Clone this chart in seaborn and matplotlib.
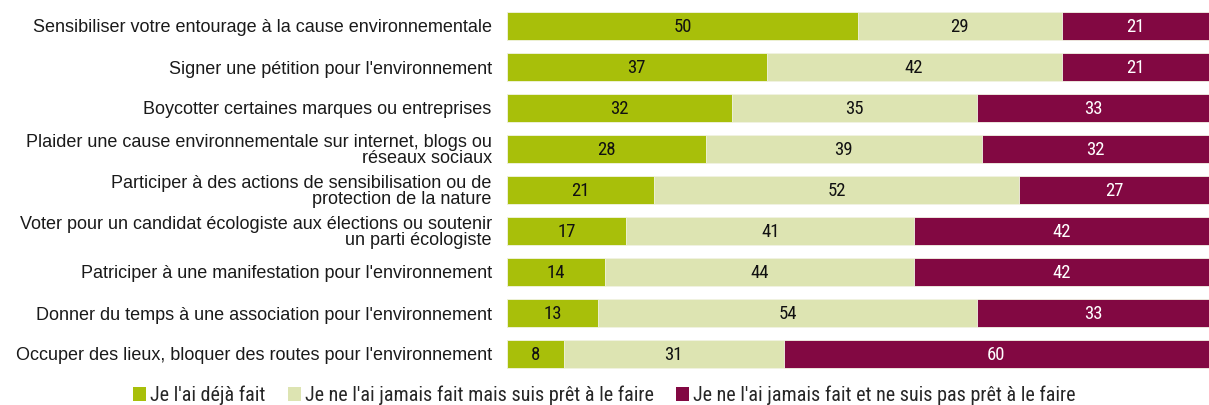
import matplotlib
matplotlib.use("Agg")
import matplotlib.pyplot as plt
import seaborn as sns
import pandas as pd
import numpy as np
from matplotlib.patches import Patch

categories = [
    "Sensibiliser votre entourage à la cause environnementale",
    "Signer une pétition pour l'environnement",
    "Boycotter certaines marques ou entreprises",
    "Plaider une cause environnementale sur internet, blogs ou\nréseaux sociaux",
    "Participer à des actions de sensibilisation ou de\nprotection de la nature",
    "Voter pour un candidat écologiste aux élections ou soutenir\nun parti écologiste",
    "Patriciper à une manifestation pour l'environnement",
    "Donner du temps à une association pour l'environnement",
    "Occuper des lieux, bloquer des routes pour l'environnement",
]
deja_fait = [50, 37, 32, 28, 21, 17, 14, 13, 8]
pret = [29, 42, 35, 39, 52, 41, 44, 54, 31]
pas_pret = [21, 21, 33, 32, 27, 42, 42, 33, 60]
series_names = [
    "Je l'ai déjà fait",
    "Je ne l'ai jamais fait mais suis prêt à le faire",
    "Je ne l'ai jamais fait et ne suis pas prêt à le faire",
]
colors = ["#A8BF0A", "#DDE4B2", "#820842"]
text_colors = ["#111111", "#111111", "#FFFFFF"]

sns.set_theme(style="white")
plt.rcParams["font.family"] = ["Liberation Sans", "DejaVu Sans"]

# 100 % stacked: each row is scaled to its own total
df = pd.DataFrame({"cat": categories, "a": deja_fait, "b": pret, "c": pas_pret})
total = df[["a", "b", "c"]].sum(axis=1)
for k in ["a", "b", "c"]:
    df[k + "_pct"] = df[k] / total * 100
df["l_a"] = df["a_pct"]
df["l_ab"] = df["a_pct"] + df["b_pct"]
df["l_abc"] = df["l_ab"] + df["c_pct"]

fig = plt.figure(figsize=(12.09, 4.05), dpi=100)
ax = fig.add_axes([507 / 1209, 1 - 374.5 / 405, 1 - 507 / 1209, 369 / 405])

# Cumulative layers drawn back to front
for col, color in zip(["l_abc", "l_ab", "l_a"], colors[::-1]):
    sns.barplot(data=df, y="cat", x=col, orient="h", color=color, width=0.66,
                ax=ax, saturation=1, edgecolor="#F3F5E6", linewidth=0.6)

ax.set_xlim(0, 100)
ax.set_ylim(8.5, -0.5)
ax.set_xlabel("")
ax.set_ylabel("")
ax.set_xticks([])
ax.tick_params(axis="y", length=0, pad=11, labelsize=13, colors="#1a1a1a")
for lbl in ax.get_yticklabels():
    lbl.set_linespacing(0.95)
for s in ax.spines.values():
    s.set_visible(False)

num_font = ["Liberation Sans Narrow", "Roboto Condensed", "Open Sans Condensed",
            "Liberation Sans", "DejaVu Sans"]
for i in range(len(categories)):
    starts = [0, df["l_a"][i], df["l_ab"][i]]
    widths = [df["a_pct"][i], df["b_pct"][i], df["c_pct"][i]]
    vals = [deja_fait[i], pret[i], pas_pret[i]]
    for s, w, v, tc in zip(starts, widths, vals, text_colors):
        ax.text(s + w / 2, i + 0.02, f"{v}", ha="center", va="center",
                fontsize=13.5, color=tc, family=num_font)

handles = [Patch(facecolor=c, edgecolor="none") for c in colors]
fig.legend(handles, series_names, loc="center", bbox_to_anchor=(0.5, 1 - 395 / 405),
           ncol=3, frameon=False, handlelength=0.65, handleheight=0.7,
           handletextpad=0.2, columnspacing=1.1,
           prop={"family": num_font, "size": 14.5})

fig.savefig("out.png", dpi=100)
